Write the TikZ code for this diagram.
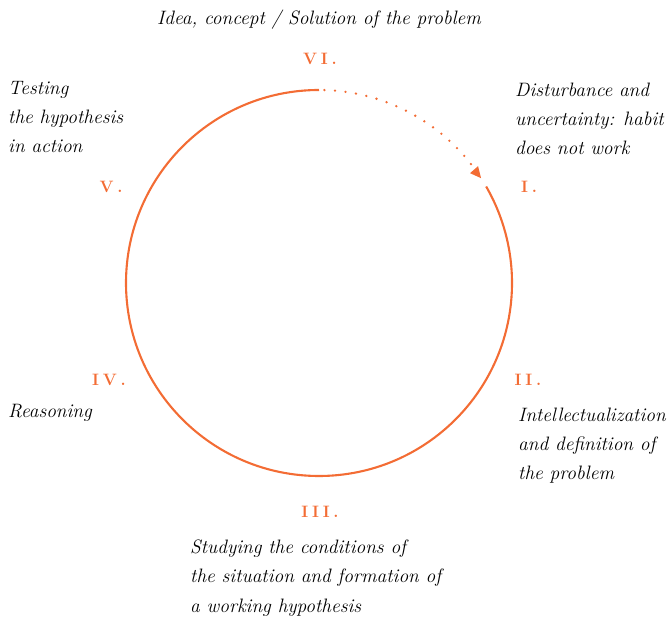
\documentclass[tikz,border=0pt]{standalone}
\usepackage{fontspec}
\definecolor{cycleorange}{RGB}{243,108,52}
% stage numerals are set letter-spaced
\newcommand{\ls}{\kern3.8pt}
\begin{document}
\begin{tikzpicture}[x=1pt,y=1pt,
  cycle/.style={draw=cycleorange, line width=2.1pt},
  dots/.style={draw=cycleorange, line width=2.6pt, line cap=round, dash pattern=on 0pt off 10.6pt},
  numeral/.style={text=cycleorange, inner sep=0pt, font=\fontsize{16.5}{16.5}\selectfont\bfseries},
  caption/.style={inner sep=0pt, align=left, font=\fontsize{19.4}{29.2}\selectfont\itshape}]
  \useasboundingbox (0,0) rectangle (671,623);
  \coordinate (C) at (319,340);

  % the cycle: solid from the top round to stage I, dotted with an arrow back into stage I
  \draw[cycle] (C) ++(90:193) coordinate (top) arc[start angle=90, end angle=390, radius=193] coordinate (one);
  \draw[dots] (C) ++(88.4:193) arc[start angle=88.4, end angle=37.5, radius=193] coordinate (dotend);
  \fill[cycleorange] (C) ++(32.9:193) coordinate (tip) -- ++(-3,12) -- ++(-8,-7) -- cycle;

  % stage numerals
  \node[numeral] (n6) at (320,564) {V\ls I\ls .};
  \node[numeral] (n1) at (529,436) {I\ls .};
  \node[numeral] (n2) at (528,243) {I\ls I\ls .};
  \node[numeral] (n3) at (320,111) {I\ls I\ls I\ls .};
  \node[numeral] (n4) at (109,243) {I\ls V\ls .};
  \node[numeral] (n5) at (111,436) {V\ls .};

  % stage descriptions (multi-line nodes sit on the baseline of their last line)
  \node[caption, anchor=base] (t6) at (319,598) {Idea, concept / Solution of the problem};
  \node[caption, anchor=base west] (t1) at (515,468) {Disturbance and\\uncertainty: habit\\does not work};
  \node[caption, anchor=base west] (t2) at (518,143) {Intellectualization\\and definition of\\the problem};
  \node[caption, anchor=base west] (t3) at (190,11) {Studying the conditions of\\the situation and formation of\\a working hypothesis};
  \node[caption, anchor=base west] (t4) at (8,205) {Reasoning};
  \node[caption, anchor=base west] (t5) at (8,470) {Testing\\the hypothesis\\in action};
\end{tikzpicture}
\end{document}
